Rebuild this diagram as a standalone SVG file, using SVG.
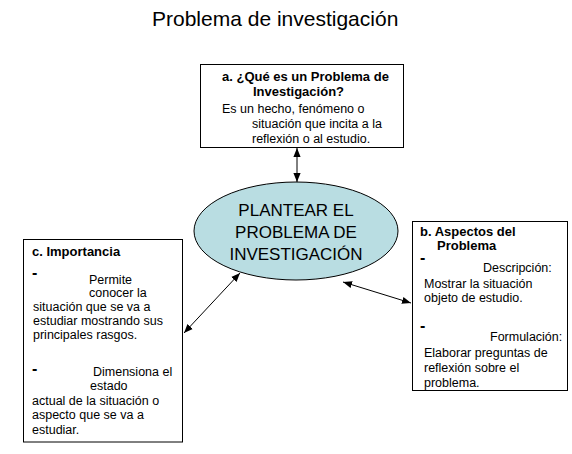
<svg xmlns="http://www.w3.org/2000/svg" width="572" height="454" viewBox="0 0 572 454">
<defs>
<style>
.box{fill:#fff;stroke:#000;stroke-width:1}
.t{font-family:"Liberation Sans",Arial,sans-serif;font-size:12.5px;fill:#000}
.b{font-family:"Liberation Sans",Arial,sans-serif;font-size:13px;font-weight:bold;fill:#000}
.d{font-family:"Liberation Sans",Arial,sans-serif;font-size:16px;font-weight:bold;fill:#000}
.e{font-family:"Liberation Sans",Arial,sans-serif;font-size:17px;fill:#000;text-anchor:middle}
.c{stroke:#000;stroke-width:1;fill:none;marker-start:url(#ah);marker-end:url(#ah)}
</style>
<marker id="ah" viewBox="0 0 10 10" refX="10" refY="5" markerWidth="9" markerHeight="9" markerUnits="userSpaceOnUse" orient="auto-start-reverse">
<path d="M0,1 L10,5 L0,9 Z" fill="#000"/>
</marker>
</defs>
<rect width="572" height="454" fill="#fff"/>
<text x="152" y="26" font-family="Liberation Sans, Arial, sans-serif" font-size="21">Problema de investigación</text>
<g id="connectors">
<line class="c" x1="297" y1="148" x2="297" y2="182"/>
<line class="c" x1="184" y1="333" x2="240" y2="273"/>
<line class="c" x1="343" y1="282" x2="411" y2="303"/>
</g>
<g id="node-a">
<rect class="box" x="200.5" y="64.5" width="203" height="83"/>
<text class="b" x="222" y="81">a. ¿Qué es un Problema de</text>
<text class="b" x="253" y="96">Investigación?</text>
<text class="t" x="222" y="113">Es un hecho, fenómeno o</text>
<text class="t" x="252" y="128">situación que incita a la</text>
<text class="t" x="252" y="143">reflexión o al estudio.</text>
</g>
<g id="node-center">
<ellipse cx="296" cy="231" rx="102" ry="49" fill="#b9dde2" stroke="#000" stroke-width="1"/>
<text class="e" x="296" y="216">PLANTEAR EL</text>
<text class="e" x="296" y="238">PROBLEMA DE</text>
<text class="e" x="296" y="260">INVESTIGACIÓN</text>
</g>
<g id="node-c">
<rect class="box" x="23.5" y="239.5" width="159" height="202.5"/>
<text class="b" x="32" y="256">c. Importancia</text>
<text class="d" x="32" y="278">-</text>
<text class="t" x="89" y="284">Permite</text>
<text class="t" x="89" y="297">conocer la</text>
<text class="t" x="33" y="311">situación que se va a</text>
<text class="t" x="33" y="325">estudiar mostrando sus</text>
<text class="t" x="33" y="339">principales rasgos.</text>
<text class="d" x="32" y="374">-</text>
<text class="t" x="93" y="376">Dimensiona el</text>
<text class="t" x="90" y="390">estado</text>
<text class="t" x="32" y="405">actual de la situación o</text>
<text class="t" x="32" y="419">aspecto que se va a</text>
<text class="t" x="32" y="434">estudiar.</text>
</g>
<g id="node-b">
<rect class="box" x="412.5" y="221.5" width="155" height="169"/>
<text class="b" x="420" y="236">b. Aspectos del</text>
<text class="b" x="437" y="250">Problema</text>
<text class="d" x="420" y="263">-</text>
<text class="t" x="483" y="272">Descripción:</text>
<text class="t" x="424" y="288">Mostrar la situación</text>
<text class="t" x="424" y="302">objeto de estudio.</text>
<text class="d" x="420" y="331">-</text>
<text class="t" x="490" y="341">Formulación:</text>
<text class="t" x="424" y="357">Elaborar preguntas de</text>
<text class="t" x="424" y="372">reflexión sobre el</text>
<text class="t" x="424" y="387">problema.</text>
</g>
</svg>
